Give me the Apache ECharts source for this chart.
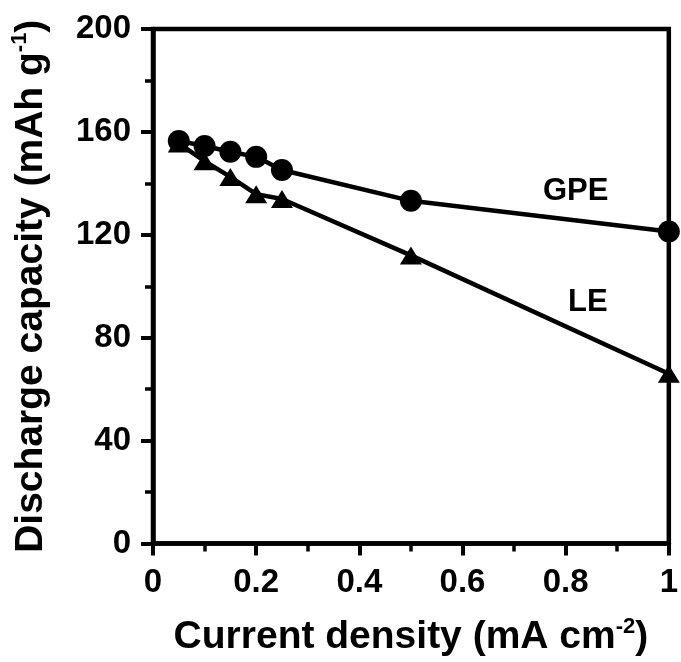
<!DOCTYPE html>
<html>
<head>
<meta charset="utf-8">
<script src="https://cdn.jsdelivr.net/npm/echarts@6/dist/echarts.min.js"></script>
<style>
html,body{margin:0;padding:0;background:#fff;}
#chart{width:681px;height:662px;}
</style>
</head>
<body>
<div id="chart"></div>
<script>
const currentDensity = [0.05, 0.1, 0.15, 0.2, 0.25, 0.5, 1.0];
const gpeCapacity = [156.5, 154.5, 152.3, 150.3, 145.2, 133.2, 121.3];
const leCapacity = [155.5, 148.6, 142.5, 135.8, 133.9, 112, 66];
const seriesNames = ['GPE', 'LE'];
const xTitle = 'Current density (mA cm';
const yTitle = 'Discharge capacity (mAh g';

const FONT = '"Liberation Sans", Arial, sans-serif';
const chart = echarts.init(document.getElementById('chart'), null, {renderer: 'canvas'});

function pairs(xs, ys) { return xs.map((x, i) => [x, ys[i]]); }

const titleRich = {
  a: {fontFamily: FONT, fontWeight: 'bold', fontSize: 39, color: '#000', lineHeight: 44},
  s: {fontFamily: FONT, fontWeight: 'bold', fontSize: 22, color: '#000', lineHeight: 22, verticalAlign: 'top'}
};

const option = {
  backgroundColor: '#fff',
  animation: false,
  grid: {left: 153, right: 11, top: 29, bottom: 113, show: true, borderColor: '#000', borderWidth: 4.5, backgroundColor: 'transparent'},
  xAxis: {
    type: 'value', min: 0, max: 1, interval: 0.2,
    axisLine: {show: true, onZero: false, lineStyle: {color: '#000', width: 4.5}},
    axisTick: {show: true, length: 12, lineStyle: {color: '#000', width: 4}},
    minorTick: {show: true, splitNumber: 2, length: 8, lineStyle: {color: '#000', width: 3.5}},
    splitLine: {show: false},
    axisLabel: {color: '#000', fontFamily: FONT, fontWeight: 'bold', fontSize: 33, margin: 23,
      formatter: v => (Math.round(v * 10) / 10).toString()},
    name: '{a|' + xTitle + '}{s|-2}{a|)}',
    nameLocation: 'middle', nameGap: 72,
    nameTextStyle: {rich: titleRich}
  },
  yAxis: {
    type: 'value', min: 0, max: 200, interval: 40,
    axisLine: {show: true, onZero: false, lineStyle: {color: '#000', width: 4.5}},
    axisTick: {show: true, length: 12, lineStyle: {color: '#000', width: 4}},
    minorTick: {show: true, splitNumber: 2, length: 8, lineStyle: {color: '#000', width: 3.5}},
    splitLine: {show: false},
    axisLabel: {color: '#000', fontFamily: FONT, fontWeight: 'bold', fontSize: 33, margin: 22},
    name: '{a|' + yTitle + '}{s|-1}{a|)}',
    nameLocation: 'middle', nameGap: 100, nameRotate: 90,
    nameTextStyle: {rich: titleRich}
  },
  series: [
    {
      name: seriesNames[1], type: 'line', data: pairs(currentDensity, leCapacity),
      symbol: 'triangle', symbolSize: [22, 18], showAllSymbol: true,
      lineStyle: {color: '#000', width: 4.5}, itemStyle: {color: '#000'}, z: 2, clip: false
    },
    {
      name: seriesNames[0], type: 'line', data: pairs(currentDensity, gpeCapacity),
      symbol: 'circle', symbolSize: 22, showAllSymbol: true,
      lineStyle: {color: '#000', width: 4.5}, itemStyle: {color: '#000'}, z: 3, clip: false
    }
  ],
  graphic: [
    {type: 'text', left: 543, top: 176, style: {text: seriesNames[0], font: 'bold 31px ' + FONT, fill: '#000'}},
    {type: 'text', left: 568, top: 287, style: {text: seriesNames[1], font: 'bold 31px ' + FONT, fill: '#000'}}
  ]
};
chart.setOption(option);
</script>
</body>
</html>
